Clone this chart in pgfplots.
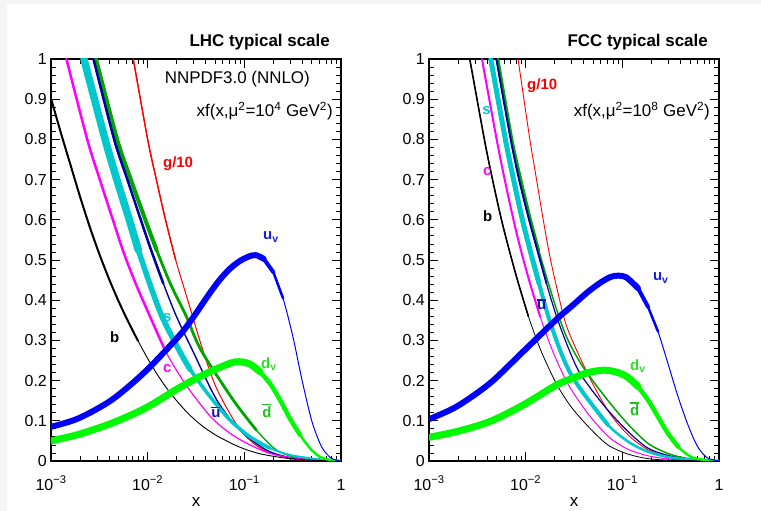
\documentclass[border=0pt]{standalone}
\usepackage{fontspec}
\setmainfont{Liberation Sans}
\usepackage{pgfplots}
\pgfplotsset{compat=1.18}
\definecolor{cyS}{RGB}{0,200,205}
\definecolor{nvy}{RGB}{0,0,160}
\definecolor{nvyL}{RGB}{20,20,170}
\definecolor{grD}{RGB}{0,165,0}
\definecolor{grDL}{RGB}{30,195,30}
\definecolor{grV}{RGB}{0,250,0}
\definecolor{grVL}{RGB}{40,225,40}
\definecolor{blV}{RGB}{0,0,255}
\definecolor{blVL}{RGB}{25,25,230}
\definecolor{mag}{RGB}{255,0,255}
\definecolor{rd}{RGB}{255,0,0}
\newcommand\ob[1]{\vbox{\hrule height 1.4bp\kern1.3bp\hbox{#1}}}
\tikzset{lbl/.style={font=\fontsize{15}{15}\selectfont\bfseries,anchor=base west,inner sep=0pt},
 ttl/.style={font=\fontsize{17}{17}\selectfont,anchor=base east,inner sep=0pt}}
\begin{document}
\begin{tikzpicture}
\useasboundingbox (0,0) rectangle (761bp,511bp);
\fill[black!4] (0,0) rectangle (761bp,511bp);
\fill[white] (7bp,0) rectangle (761bp,507bp);
% ---------------- LHC ----------------
\begin{axis}[at={(51bp,50bp)},width=290bp,height=402bp,scale only axis,
 xmode=log,xmin=0.001,xmax=1,ymin=0,ymax=1,clip=true,clip mode=individual,
 axis line style={line width=1.2bp},
 tick style={black,line width=0.8bp},
 tick align=inside,major tick length=9bp,minor tick length=5bp,
 xtick={0.001,0.01,0.1,1},
 xticklabels={10\textsuperscript{−3},10\textsuperscript{−2},10\textsuperscript{−1},1},
 extra x ticks={0.002,0.003,0.004,0.005,0.006,0.007,0.008,0.009,0.02,0.03,0.04,0.05,0.06,0.07,0.08,0.09,0.2,0.3,0.4,0.5,0.6,0.7,0.8,0.9},
 extra x tick labels={},
 extra x tick style={major tick length=5bp},
 ytick={0,0.1,0.2,0.3,0.4,0.5,0.6,0.7,0.8,0.9,1},
 yticklabels={0,0.1,0.2,0.3,0.4,0.5,0.6,0.7,0.8,0.9,1},
 minor y tick num=4,
 tick label style={font=\fontsize{16}{18}\selectfont},
 xticklabel style={anchor=base,yshift=-29bp,inner sep=0pt},
 yticklabel style={anchor=east,xshift=-4bp,inner sep=0pt},
 every axis plot/.append style={line join=round,line cap=round,smooth}]
% g/10
\addplot[rd,line width=1.0bp] coordinates {(7.1e-3,1) (1e-2,0.8) (1.23e-2,0.7) (1.53e-2,0.6) (1.95e-2,0.5) (2.6e-2,0.4) (3.72e-2,0.276) (5.25e-2,0.177) (9.12e-2,0.077) (0.158,0.027) (0.302,0.006) (0.5,0.001) (1,0)};
\addplot[rd,line width=1.4bp] coordinates {(7.1e-3,1) (1e-2,0.8) (1.23e-2,0.7) (1.53e-2,0.6) (1.95e-2,0.5)};
% dbar
\addplot[grD,line width=1.3bp] coordinates {(2.92e-3,1) (4.83e-3,0.8) (6.7e-3,0.7) (9.46e-3,0.6) (1.236e-2,0.525) (1.71e-2,0.442) (2.52e-2,0.359) (3.56e-2,0.276) (7.66e-2,0.152) (0.133,0.077) (0.216,0.027) (0.35,0.008) (0.55,0.002) (1,0)};
\addplot[grD,line width=2.8bp] coordinates {(1.236e-2,0.525) (1.71e-2,0.442) (2.52e-2,0.359) (3.56e-2,0.276) (7.66e-2,0.152) (0.133,0.077)};
\addplot[grD,line width=4bp] coordinates {(2.92e-3,1) (4.83e-3,0.8) (6.7e-3,0.7) (9.46e-3,0.6) (1.236e-2,0.525)};
% ubar
\addplot[nvy,line width=1.4bp] coordinates {(2.75e-3,1) (4.5e-3,0.8) (6.17e-3,0.7) (8.49e-3,0.6) (1.084e-2,0.525) (1.45e-2,0.442) (1.99e-2,0.359) (2.9e-2,0.276) (5.18e-2,0.152) (9.0e-2,0.077) (0.17,0.027) (0.3,0.008) (0.5,0.002) (1,0)};
\addplot[nvy,line width=2.5bp] coordinates {(2.75e-3,1) (4.5e-3,0.8) (6.17e-3,0.7) (8.49e-3,0.6) (1.084e-2,0.525) (1.45e-2,0.442)};
% s
\addplot[cyS,line width=2bp] coordinates {(2.19e-3,1) (3.63e-3,0.8) (4.8e-3,0.7) (6.46e-3,0.6) (8.0e-3,0.525) (1.047e-2,0.442) (1.41e-2,0.359) (2.11e-2,0.276) (2.74e-2,0.228) (4.42e-2,0.160) (7.11e-2,0.102) (0.1146,0.060) (0.184,0.032) (0.296,0.015) (0.477,0.007) (0.756,0.001) (1,0)};
\addplot[cyS,line width=3.5bp] coordinates {(2.74e-2,0.228) (4.42e-2,0.160) (7.11e-2,0.102) (0.1146,0.060) (0.184,0.032)};
\addplot[cyS,line width=5.5bp] coordinates {(8.0e-3,0.525) (1.047e-2,0.442) (1.41e-2,0.359) (2.11e-2,0.276) (2.74e-2,0.228)};
\addplot[cyS,line width=7.5bp] coordinates {(2.19e-3,1) (3.63e-3,0.8) (4.8e-3,0.7) (6.46e-3,0.6) (8.0e-3,0.525)};
% c
\addplot[mag,line width=1.2bp] coordinates {(1.445e-3,1) (2.37e-3,0.8) (3.2e-3,0.7) (4.37e-3,0.6) (5.62e-3,0.52) (7.5e-3,0.442) (1.06e-2,0.359) (1.51e-2,0.276) (2.43e-2,0.193) (4.42e-2,0.112) (7.11e-2,0.069) (0.1146,0.040) (0.184,0.019) (0.296,0.009) (0.5,0.002) (1,0)};
\addplot[mag,line width=2.5bp] coordinates {(1.445e-3,1) (2.37e-3,0.8) (3.2e-3,0.7) (4.37e-3,0.6) (5.62e-3,0.52) (7.5e-3,0.442) (1.06e-2,0.359) (1.51e-2,0.276)};
% b
\addplot[black,line width=0.9bp] coordinates {(1e-3,0.902) (1.259e-3,0.818) (1.585e-3,0.738) (1.995e-3,0.658) (2.512e-3,0.583) (3.162e-3,0.515) (3.981e-3,0.453) (5.012e-3,0.397) (6.31e-3,0.346) (7.943e-3,0.299) (1e-2,0.255) (1.259e-2,0.215) (1.585e-2,0.180) (1.995e-2,0.150) (2.512e-2,0.123) (3.162e-2,0.100) (3.981e-2,0.081) (5.012e-2,0.065) (6.31e-2,0.052) (7.943e-2,0.040) (0.1,0.030) (0.1259,0.022) (0.1585,0.016) (0.2512,0.008) (0.3981,0.003) (0.631,0.001) (1,0)};
\addplot[black,line width=2bp] coordinates {(1e-3,0.902) (1.259e-3,0.818) (1.585e-3,0.738) (1.995e-3,0.658) (2.512e-3,0.583) (3.162e-3,0.515) (3.981e-3,0.453) (5.012e-3,0.397) (6.31e-3,0.346) (7.943e-3,0.299)};
% d_v
\addplot[grV,line width=2.5bp] coordinates {(1e-3,0.050) (1.92e-3,0.066) (4.25e-3,0.094) (9.4e-3,0.131) (2.08e-2,0.181) (3.0e-2,0.202) (4.42e-2,0.222) (7.11e-2,0.243) (8.87e-2,0.247) (0.1146,0.241) (0.145,0.222) (0.184,0.193) (0.234,0.152) (0.296,0.106) (0.377,0.065) (0.477,0.032) (0.60,0.011) (0.756,0.003) (1,0)};
\addplot[grV,line width=4.5bp] coordinates {(0.145,0.222) (0.184,0.193) (0.234,0.152) (0.296,0.106) (0.377,0.065)};
\addplot[grV,line width=7bp] coordinates {(1e-3,0.050) (1.92e-3,0.066) (4.25e-3,0.094) (9.4e-3,0.131) (2.08e-2,0.181) (3.0e-2,0.202) (4.42e-2,0.222) (7.11e-2,0.243) (8.87e-2,0.247) (0.1146,0.241) (0.145,0.222)};
% u_v
\addplot[blV,line width=1bp] coordinates {(1e-3,0.085) (1.92e-3,0.106) (4.25e-3,0.152) (9.4e-3,0.222) (2.075e-2,0.309) (2.818e-2,0.350) (3.548e-2,0.385) (4.467e-2,0.420) (5.623e-2,0.452) (7.079e-2,0.478) (8.913e-2,0.497) (0.1122,0.509) (0.1318,0.512) (0.1585,0.503) (0.1995,0.470) (0.2512,0.405) (0.3162,0.312) (0.3981,0.198) (0.5012,0.098) (0.631,0.035) (0.7943,0.007) (1,0)};
\addplot[blV,line width=2.5bp] coordinates {(0.1995,0.470) (0.2512,0.405)};
\addplot[blV,line width=4bp] coordinates {(0.1585,0.503) (0.1995,0.470)};
\addplot[blV,line width=6bp] coordinates {(1e-3,0.085) (1.92e-3,0.106) (4.25e-3,0.152) (9.4e-3,0.222) (2.075e-2,0.309) (2.818e-2,0.350) (3.548e-2,0.385) (4.467e-2,0.420) (5.623e-2,0.452) (7.079e-2,0.478) (8.913e-2,0.497) (0.1122,0.509) (0.1318,0.512) (0.1585,0.503)};
% labels
\node[ttl,font=\fontsize{17}{17}\selectfont\bfseries] at (rel axis cs:0.962,1.030) {LHC typical scale};
\node[ttl] at (rel axis cs:0.893,0.938) {NNPDF3.0 (NNLO)};
\node[ttl] at (rel axis cs:0.972,0.856) {xf(x,μ\textsuperscript{2}=10\textsuperscript{4} GeV\textsuperscript{2})};
\node[lbl,rd] at (rel axis cs:0.386,0.729) {g/10};
\node[lbl,blVL] at (rel axis cs:0.731,0.550) {u\textsubscript{v}};
\node[lbl,cyS] at (rel axis cs:0.386,0.346) {s};
\node[lbl,black] at (rel axis cs:0.203,0.294) {b};
\node[lbl,mag] at (rel axis cs:0.386,0.219) {c};
\node[lbl,nvyL] at (rel axis cs:0.552,0.109) {\ob{u}};
\node[lbl,grVL] at (rel axis cs:0.724,0.231) {d\textsubscript{v}};
\node[lbl,grDL] at (rel axis cs:0.728,0.109) {\ob{d}};
\node[font=\fontsize{17}{17}\selectfont,anchor=base,inner sep=0pt] at (rel axis cs:0.5,-0.114) {x};
\end{axis}
% ---------------- FCC ----------------
\begin{axis}[at={(429bp,50bp)},width=290bp,height=402bp,scale only axis,
 xmode=log,xmin=0.001,xmax=1,ymin=0,ymax=1,clip=true,clip mode=individual,
 axis line style={line width=1.2bp},
 tick style={black,line width=0.8bp},
 tick align=inside,major tick length=9bp,minor tick length=5bp,
 xtick={0.001,0.01,0.1,1},
 xticklabels={10\textsuperscript{−3},10\textsuperscript{−2},10\textsuperscript{−1},1},
 extra x ticks={0.002,0.003,0.004,0.005,0.006,0.007,0.008,0.009,0.02,0.03,0.04,0.05,0.06,0.07,0.08,0.09,0.2,0.3,0.4,0.5,0.6,0.7,0.8,0.9},
 extra x tick labels={},
 extra x tick style={major tick length=5bp},
 ytick={0,0.1,0.2,0.3,0.4,0.5,0.6,0.7,0.8,0.9,1},
 yticklabels={0,0.1,0.2,0.3,0.4,0.5,0.6,0.7,0.8,0.9,1},
 minor y tick num=4,
 tick label style={font=\fontsize{16}{18}\selectfont},
 xticklabel style={anchor=base,yshift=-29bp,inner sep=0pt},
 yticklabel style={anchor=east,xshift=-4bp,inner sep=0pt},
 every axis plot/.append style={line join=round,line cap=round,smooth}]
% g/10
\addplot[rd,line width=0.9bp] coordinates {(8.34e-3,1) (1.10e-2,0.803) (1.29e-2,0.703) (1.51e-2,0.604) (1.77e-2,0.512) (2.15e-2,0.42) (2.7e-2,0.33) (4.42e-2,0.215) (7.11e-2,0.125) (0.1146,0.065) (0.184,0.028) (0.296,0.011) (0.5,0.003) (1,0)};
% dbar
\addplot[grD,line width=1.5bp] coordinates {(5.18e-3,1) (7.24e-3,0.8) (8.95e-3,0.7) (1.127e-2,0.6) (1.365e-2,0.525) (1.718e-2,0.442) (2.21e-2,0.359) (2.75e-2,0.30) (3.89e-2,0.235) (6.61e-2,0.160) (0.112,0.094) (0.184,0.044) (0.295,0.019) (0.479,0.006) (1,0)};
\addplot[grD,line width=2.5bp] coordinates {(5.18e-3,1) (7.24e-3,0.8) (8.95e-3,0.7) (1.127e-2,0.6) (1.365e-2,0.525)};
% ubar
\addplot[nvy,line width=1.2bp] coordinates {(4.97e-3,1) (7.0e-3,0.8) (8.55e-3,0.7) (1.084e-2,0.6) (1.318e-2,0.525) (1.64e-2,0.442) (2.09e-2,0.359) (2.82e-2,0.276) (3.72e-2,0.215) (6.61e-2,0.135) (0.115,0.073) (0.184,0.032) (0.295,0.014) (0.479,0.004) (1,0)};
\addplot[nvy,line width=1.8bp] coordinates {(4.97e-3,1) (7.0e-3,0.8) (8.55e-3,0.7) (1.084e-2,0.6) (1.318e-2,0.525) (1.64e-2,0.442)};
% s
\addplot[cyS,line width=2.5bp] coordinates {(4.35e-3,1) (6.17e-3,0.8) (7.5e-3,0.7) (9.25e-3,0.6) (1.109e-2,0.525) (1.374e-2,0.442) (1.718e-2,0.359) (2.265e-2,0.276) (2.95e-2,0.215) (4.27e-2,0.158) (7.08e-2,0.090) (0.115,0.048) (0.184,0.023) (0.295,0.010) (0.479,0.004) (1,0)};
\addplot[cyS,line width=4bp] coordinates {(1.374e-2,0.442) (1.718e-2,0.359) (2.265e-2,0.276) (2.95e-2,0.215) (4.27e-2,0.158) (7.08e-2,0.090)};
\addplot[cyS,line width=5bp] coordinates {(4.35e-3,1) (6.17e-3,0.8) (7.5e-3,0.7) (9.25e-3,0.6) (1.109e-2,0.525) (1.374e-2,0.442)};
% c
\addplot[mag,line width=1bp] coordinates {(3.53e-3,1) (5.01e-3,0.8) (6.07e-3,0.7) (7.48e-3,0.6) (8.91e-3,0.525) (1.109e-2,0.442) (1.413e-2,0.359) (1.884e-2,0.276) (2.72e-2,0.193) (4.37e-2,0.119) (7.24e-2,0.060) (0.115,0.029) (0.184,0.013) (0.302,0.005) (0.5,0.001) (1,0)};
\addplot[mag,line width=2bp] coordinates {(3.53e-3,1) (5.01e-3,0.8) (6.07e-3,0.7) (7.48e-3,0.6) (8.91e-3,0.525) (1.109e-2,0.442) (1.413e-2,0.359)};
% b
\addplot[black,line width=0.8bp] coordinates {(2.64e-3,1) (3.74e-3,0.8) (4.54e-3,0.7) (5.62e-3,0.6) (6.84e-3,0.52) (8.41e-3,0.442) (1.07e-2,0.359) (1.43e-2,0.276) (2.07e-2,0.193) (2.95e-2,0.135) (4.47e-2,0.085) (7.08e-2,0.040) (0.115,0.017) (0.184,0.006) (0.316,0.002) (1,0)};
\addplot[black,line width=1.6bp] coordinates {(2.64e-3,1) (3.74e-3,0.8) (4.54e-3,0.7) (5.62e-3,0.6) (6.84e-3,0.52) (8.41e-3,0.442) (1.07e-2,0.359)};
% d_v
\addplot[grV,line width=2.5bp] coordinates {(1e-3,0.059) (1.92e-3,0.073) (4.25e-3,0.098) (9.4e-3,0.139) (2.08e-2,0.189) (3.09e-2,0.206) (4.42e-2,0.220) (6.57e-2,0.226) (9.0e-2,0.220) (0.1146,0.208) (0.145,0.185) (0.184,0.152) (0.234,0.110) (0.296,0.069) (0.377,0.036) (0.477,0.015) (0.60,0.005) (1,0)};
\addplot[grV,line width=4.5bp] coordinates {(0.145,0.185) (0.184,0.152) (0.234,0.110) (0.296,0.069) (0.377,0.036)};
\addplot[grV,line width=7bp] coordinates {(1e-3,0.059) (1.92e-3,0.073) (4.25e-3,0.098) (9.4e-3,0.139) (2.08e-2,0.189) (3.09e-2,0.206) (4.42e-2,0.220) (6.57e-2,0.226) (9.0e-2,0.220) (0.1146,0.208) (0.145,0.185)};
% u_v
\addplot[blV,line width=1bp] coordinates {(1e-3,0.104) (1.92e-3,0.135) (4.25e-3,0.193) (9.4e-3,0.272) (2.075e-2,0.352) (3.09e-2,0.388) (4.42e-2,0.421) (6.05e-2,0.445) (7.59e-2,0.458) (9.0e-2,0.461) (0.1096,0.457) (0.145,0.430) (0.184,0.384) (0.234,0.322) (0.296,0.243) (0.377,0.160) (0.477,0.090) (0.60,0.036) (0.756,0.008) (1,0)};
\addplot[blV,line width=2.5bp] coordinates {(0.184,0.384) (0.234,0.322)};
\addplot[blV,line width=4bp] coordinates {(0.145,0.430) (0.184,0.384)};
\addplot[blV,line width=6bp] coordinates {(1e-3,0.104) (1.92e-3,0.135) (4.25e-3,0.193) (9.4e-3,0.272) (2.075e-2,0.352) (3.09e-2,0.388) (4.42e-2,0.421) (6.05e-2,0.445) (7.59e-2,0.458) (9.0e-2,0.461) (0.1096,0.457) (0.145,0.430)};
% labels
\node[ttl,font=\fontsize{17}{17}\selectfont\bfseries] at (rel axis cs:0.962,1.030) {FCC typical scale};
\node[ttl] at (rel axis cs:0.969,0.856) {xf(x,μ\textsuperscript{2}=10\textsuperscript{8} GeV\textsuperscript{2})};
\node[lbl,rd] at (rel axis cs:0.338,0.923) {g/10};
\node[lbl,cyS] at (rel axis cs:0.183,0.861) {s};
\node[lbl,mag] at (rel axis cs:0.186,0.711) {c};
\node[lbl,black] at (rel axis cs:0.186,0.597) {b};
\node[lbl,nvyL] at (rel axis cs:0.372,0.376) {\ob{u}};
\node[lbl,blVL] at (rel axis cs:0.772,0.448) {u\textsubscript{v}};
\node[lbl,grVL] at (rel axis cs:0.693,0.226) {d\textsubscript{v}};
\node[lbl,grDL] at (rel axis cs:0.693,0.112) {\ob{d}};
\node[font=\fontsize{17}{17}\selectfont,anchor=base,inner sep=0pt] at (rel axis cs:0.5,-0.114) {x};
\end{axis}
\end{tikzpicture}
\end{document}
